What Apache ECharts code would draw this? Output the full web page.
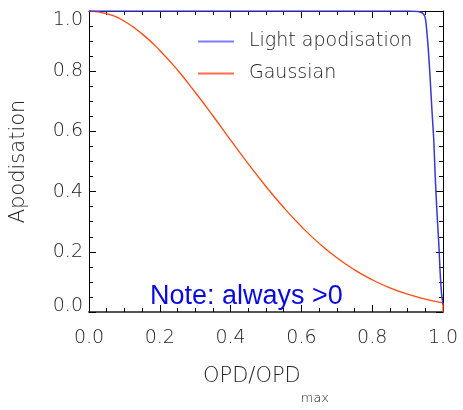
<!DOCTYPE html>
<html>
<head>
<meta charset="utf-8">
<script src="https://cdn.jsdelivr.net/npm/echarts@6/dist/echarts.min.js"></script>
<style>html,body{margin:0;padding:0;background:#fff}#c{width:463px;height:410px}</style>
</head>
<body>
<div id="c"></div>
<script>
// ---- data ----
var lightX = [0.0, 0.5, 0.9, 0.93, 0.945, 0.951, 0.958, 0.963, 0.969, 0.974, 0.978, 0.983, 0.988, 0.992, 0.996, 1.0];
var lightY = [1.0, 1.0, 1.0, 0.998, 0.99, 0.97, 0.88, 0.79, 0.666, 0.57, 0.45, 0.33, 0.23, 0.13, 0.06, 0.025];
var gaussX = [0.0, 0.05, 0.1, 0.15, 0.2, 0.25, 0.3, 0.35, 0.4, 0.45, 0.5, 0.55, 0.6, 0.65, 0.7, 0.75, 0.8, 0.85, 0.9, 0.95, 1.0];
var gaussY = [1.0, 0.991, 0.966, 0.924, 0.869, 0.804, 0.73, 0.652, 0.571, 0.492, 0.417, 0.347, 0.284, 0.228, 0.18, 0.14, 0.107, 0.08, 0.059, 0.043, 0.03];
var gaussEndX = [1.0, 1.0];
var gaussEndY = [0.03, 0.0];
var seriesNames = ['Light apodisation', 'Gaussian'];
var noteText = 'Note: always >0';

function pairs(xs, ys) { return xs.map(function (x, i) { return [x, ys[i]]; }); }

var FONT = 'DejaVu Sans';
var TXT = '#222';

var baseAxis = {
  min: 0, max: 1, interval: 0.2,
  splitLine: { show: false },
  axisTick: { show: true, inside: true, length: 7, lineStyle: { color: '#000', width: 1 } },
  minorTick: { show: true, splitNumber: 4, length: 4, lineStyle: { color: '#000', width: 1 } },
  axisLine: { show: true, onZero: false, lineStyle: { color: '#000', width: 1 } }
};
function ax(extra) { return Object.assign(JSON.parse(JSON.stringify(baseAxis)), extra); }

var labelFmt = function (v) { return v.toFixed(1); };

var chart = echarts.init(document.getElementById('c'), null, { renderer: 'canvas' });
chart.setOption({
  animation: false,
  backgroundColor: '#fff',
  grid: { left: 89, right: 20, top: 11, bottom: 73 },
  legend: {
    orient: 'vertical', left: 193, top: 27, itemGap: 13,
    itemWidth: 36, itemHeight: 2, icon: 'rect',
    textStyle: { fontFamily: FONT, fontWeight: 200, fontSize: 19, color: TXT, padding: [0, 0, 0, 10] },
    data: [
      { name: seriesNames[0], itemStyle: { color: '#7c7cff' } },
      { name: seriesNames[1], itemStyle: { color: '#ff7048' } }
    ]
  },
  xAxis: [
    ax({
      type: 'value', position: 'bottom',
      axisLine: { show: true, onZero: false, lineStyle: { color: '#555', width: 2 } },
      axisLabel: { show: true, margin: 17, fontFamily: FONT, fontWeight: 200, fontSize: 19, color: TXT, formatter: labelFmt },
      name: 'OPD/OPD{s|max}', nameLocation: 'middle', nameGap: 36,
      nameTextStyle: {
        fontFamily: FONT, fontWeight: 200, fontSize: 21, color: TXT,
        rich: { s: { fontFamily: FONT, fontWeight: 200, fontSize: 13, color: TXT, padding: [44, 0, 0, 0] } }
      }
    }),
    ax({ type: 'value', position: 'top', axisLabel: { show: false } })
  ],
  yAxis: [
    ax({
      type: 'value', position: 'left',
      axisLabel: {
        show: true, margin: 6, fontFamily: FONT, fontWeight: 200, fontSize: 19, color: TXT,
        formatter: function (v) {
          var s = labelFmt(v);
          if (v >= 1) return '{t|' + s + '}';
          if (v <= 0) return '{b|' + s + '}';
          return s;
        },
        rich: {
          t: { fontFamily: FONT, fontWeight: 200, fontSize: 19, color: TXT, padding: [18, 0, 0, 0] },
          b: { fontFamily: FONT, fontWeight: 200, fontSize: 19, color: TXT, padding: [0, 0, 12, 0] }
        }
      },
      name: 'Apodisation', nameLocation: 'middle', nameGap: 60, nameRotate: 90,
      nameTextStyle: { fontFamily: FONT, fontWeight: 200, fontSize: 21, color: TXT }
    }),
    ax({ type: 'value', position: 'right', axisLabel: { show: false } })
  ],
  graphic: [{
    type: 'text', left: 150, top: 283,
    style: { text: noteText, fill: '#0a0ae0', font: '27px "Liberation Sans", Arial, sans-serif' }
  }],
  series: [
    {
      name: seriesNames[0], type: 'line', xAxisIndex: 0, yAxisIndex: 0,
      data: pairs(lightX, lightY), showSymbol: false, symbol: 'none', smooth: 0.2,
      lineStyle: { color: '#3838cc', width: 1.5 }, itemStyle: { color: '#3838cc' }, z: 3
    },
    {
      name: seriesNames[1], type: 'line', xAxisIndex: 0, yAxisIndex: 0,
      data: pairs(gaussX, gaussY), showSymbol: false, symbol: 'none', smooth: 0.5,
      lineStyle: { color: '#ff4a10', width: 1.3 }, itemStyle: { color: '#ff4a10' }, z: 2
    },
    {
      name: seriesNames[1], type: 'line', xAxisIndex: 0, yAxisIndex: 0,
      data: pairs(gaussEndX, gaussEndY), showSymbol: false, symbol: 'none',
      lineStyle: { color: '#ff4a10', width: 1.3 }, itemStyle: { color: '#ff4a10' }, z: 2
    }
  ]
});
</script>
</body>
</html>
